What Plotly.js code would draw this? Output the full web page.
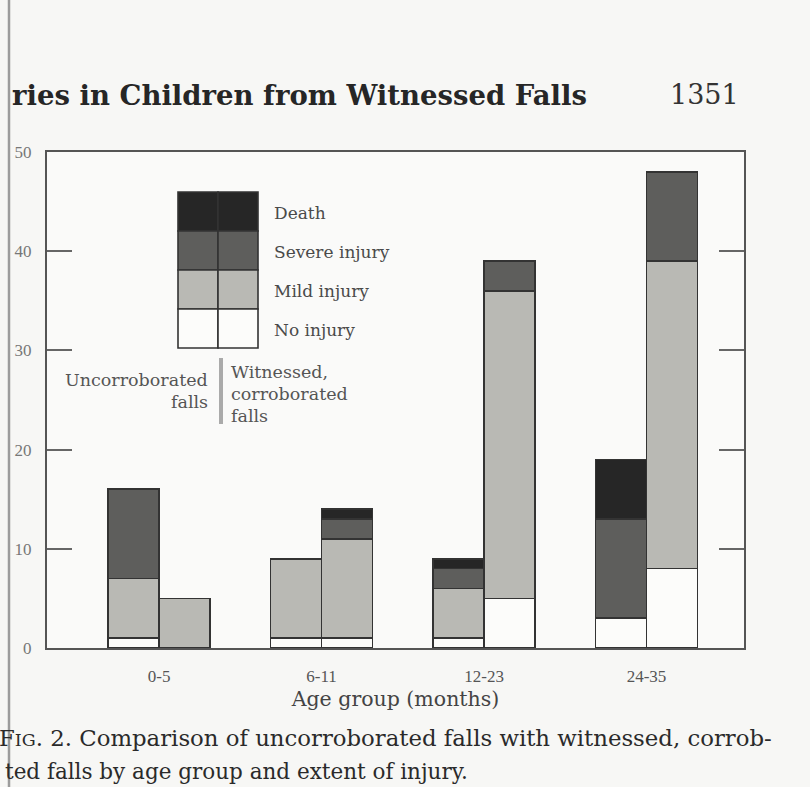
<!DOCTYPE html>
<html>
<head>
<meta charset="utf-8">
<script src="https://cdn.plot.ly/plotly-3.0.1.min.js"></script>
<style>
  html, body { margin: 0; padding: 0; background: #f7f7f5; }
  #chart { width: 810px; height: 787px; }
</style>
</head>
<body>
<div id="chart"></div>
<script>
// ---- data ----
const groups = ['0-5', '6-11', '12-23', '24-35'];
const levels = ['No injury', 'Mild injury', 'Severe injury', 'Death'];
// Uncorroborated falls
const uncNoInjury = [1, 1, 1, 3];
const uncMild     = [6, 8, 5, 0];
const uncSevere   = [9, 0, 2, 10];
const uncDeath    = [0, 0, 1, 6];
// Witnessed, corroborated falls
const witNoInjury = [0, 1, 5, 8];
const witMild     = [5, 10, 31, 31];
const witSevere   = [0, 2, 3, 9];
const witDeath    = [0, 1, 0, 0];
const yTicks = [0, 10, 20, 30, 40, 50];

// ---- style ----
const colors = { 'No injury': '#fcfcfa', 'Mild injury': '#b9b9b4', 'Severe injury': '#5e5e5c', 'Death': '#262626' };
const edge = '#333333';
const serif = 'Liberation Serif, serif';
const wide = 'DejaVu Serif, serif';
const barW = 0.314;

// pixel -> paper helpers (plot area: x 47..744, y 152..648)
const L = 47, R = 744, T = 152, B = 648;
const px = x => (x - L) / (R - L);
const py = y => (B - y) / (B - T);

const uncSeries = [uncNoInjury, uncMild, uncSevere, uncDeath];
const witSeries = [witNoInjury, witMild, witSevere, witDeath];

const traces = [];
function addSide(series, side, name) {
  series.forEach((vals, k) => {
    traces.push({
      type: 'bar',
      name: name + ' - ' + levels[k],
      x: groups.map((g, i) => i + side * barW / 2),
      y: vals,
      width: barW,
      marker: { color: colors[levels[k]], line: { color: edge, width: 1.6 } },
      showlegend: false,
      hoverinfo: 'skip'
    });
  });
}
addSide(uncSeries, -1, 'Uncorroborated');
addSide(witSeries, 1, 'Witnessed');

// legend key (two columns x four rows)
const shapes = [];
const keyLeft = 178, keyMid = 218, keyRight = 258;
const rowTops = [192, 231, 270, 309, 348];
const keyOrder = ['Death', 'Severe injury', 'Mild injury', 'No injury'];
keyOrder.forEach((lv, r) => {
  [[keyLeft, keyMid], [keyMid, keyRight]].forEach(([a, b]) => {
    shapes.push({ type: 'rect', xref: 'paper', yref: 'paper',
      x0: px(a), x1: px(b), y0: py(rowTops[r + 1]), y1: py(rowTops[r]),
      fillcolor: colors[lv], line: { color: edge, width: 1.6 } });
  });
});
// separator bar between the two column captions
shapes.push({ type: 'line', xref: 'paper', yref: 'paper',
  x0: px(221), x1: px(221), y0: py(358), y1: py(424),
  line: { color: '#aaaaaa', width: 4 } });
// page edge (book gutter)
shapes.push({ type: 'line', xref: 'paper', yref: 'paper',
  x0: px(9), x1: px(9), y0: py(0), y1: py(787),
  line: { color: '#9c9c9c', width: 2.5 } });

const annotations = [];
const txt = (text, x, y, opts) => Object.assign({
  text: text, xref: 'paper', yref: 'paper', x: px(x), y: py(y),
  showarrow: false, xanchor: 'left', yanchor: 'middle',
  font: { family: wide, size: 17, color: '#4a4a4a' }
}, opts || {});

keyOrder.forEach((lv, r) => {
  annotations.push(txt(lv, 272, (rowTops[r] + rowTops[r + 1]) / 2 + 1));
});
const capFont = { family: wide, size: 17.5, color: '#555' };
annotations.push(txt('Uncorroborated', 210, 380, { xanchor: 'right', font: capFont }));
annotations.push(txt('falls', 210, 402, { xanchor: 'right', font: capFont }));
annotations.push(txt('Witnessed,', 229, 372, { font: capFont }));
annotations.push(txt('corroborated', 229, 394, { font: capFont }));
annotations.push(txt('falls', 229, 416, { font: capFont }));

// running header
annotations.push(txt('ries in Children from Witnessed Falls', 10, 95,
  { font: { family: wide, size: 27.5, color: '#262626', weight: 'bold' } }));
annotations.push(txt('1351', 741, 95,
  { xanchor: 'right', font: { family: wide, size: 27, color: '#333' } }));
// caption
annotations.push(txt('F<span style="font-size:17.5px">IG</span>. 2. Comparison of uncorroborated falls with witnessed, corrob-', -3, 738,
  { font: { family: wide, size: 22.8, color: '#2a2a2a' } }));
annotations.push(txt('ted falls by age group and extent of injury.', 3, 771,
  { font: { family: wide, size: 21.5, color: '#2a2a2a' } }));

const layout = {
  width: 810, height: 787,
  margin: { l: L, r: 810 - R, t: T, b: 787 - B },
  paper_bgcolor: '#f7f7f5',
  plot_bgcolor: '#fafaf9',
  barmode: 'stack',
  bargap: 0,
  showlegend: false,
  xaxis: {
    range: [-0.69, 3.6],
    tickvals: groups.map((g, i) => i),
    ticktext: groups,
    ticks: '',
    ticklabelstandoff: 12,
    tickfont: { family: serif, size: 17, color: '#555' },
    showgrid: false, zeroline: false,
    showline: true, mirror: true, linecolor: '#555', linewidth: 2,
    title: { text: 'Age group (months)', standoff: 6,
      font: { family: wide, size: 20.5, color: '#444' } }
  },
  yaxis: {
    range: [0, 50],
    tickvals: yTicks,
    ticks: 'inside', ticklen: 25, tickwidth: 2, tickcolor: '#666',
    ticklabelstandoff: 10,
    tickfont: { family: serif, size: 17, color: '#777' },
    showgrid: false, zeroline: false,
    showline: true, mirror: 'ticks', linecolor: '#555', linewidth: 2
  },
  shapes: shapes,
  annotations: annotations
};

Plotly.newPlot('chart', traces, layout, { displayModeBar: false, staticPlot: true });
</script>
</body>
</html>
